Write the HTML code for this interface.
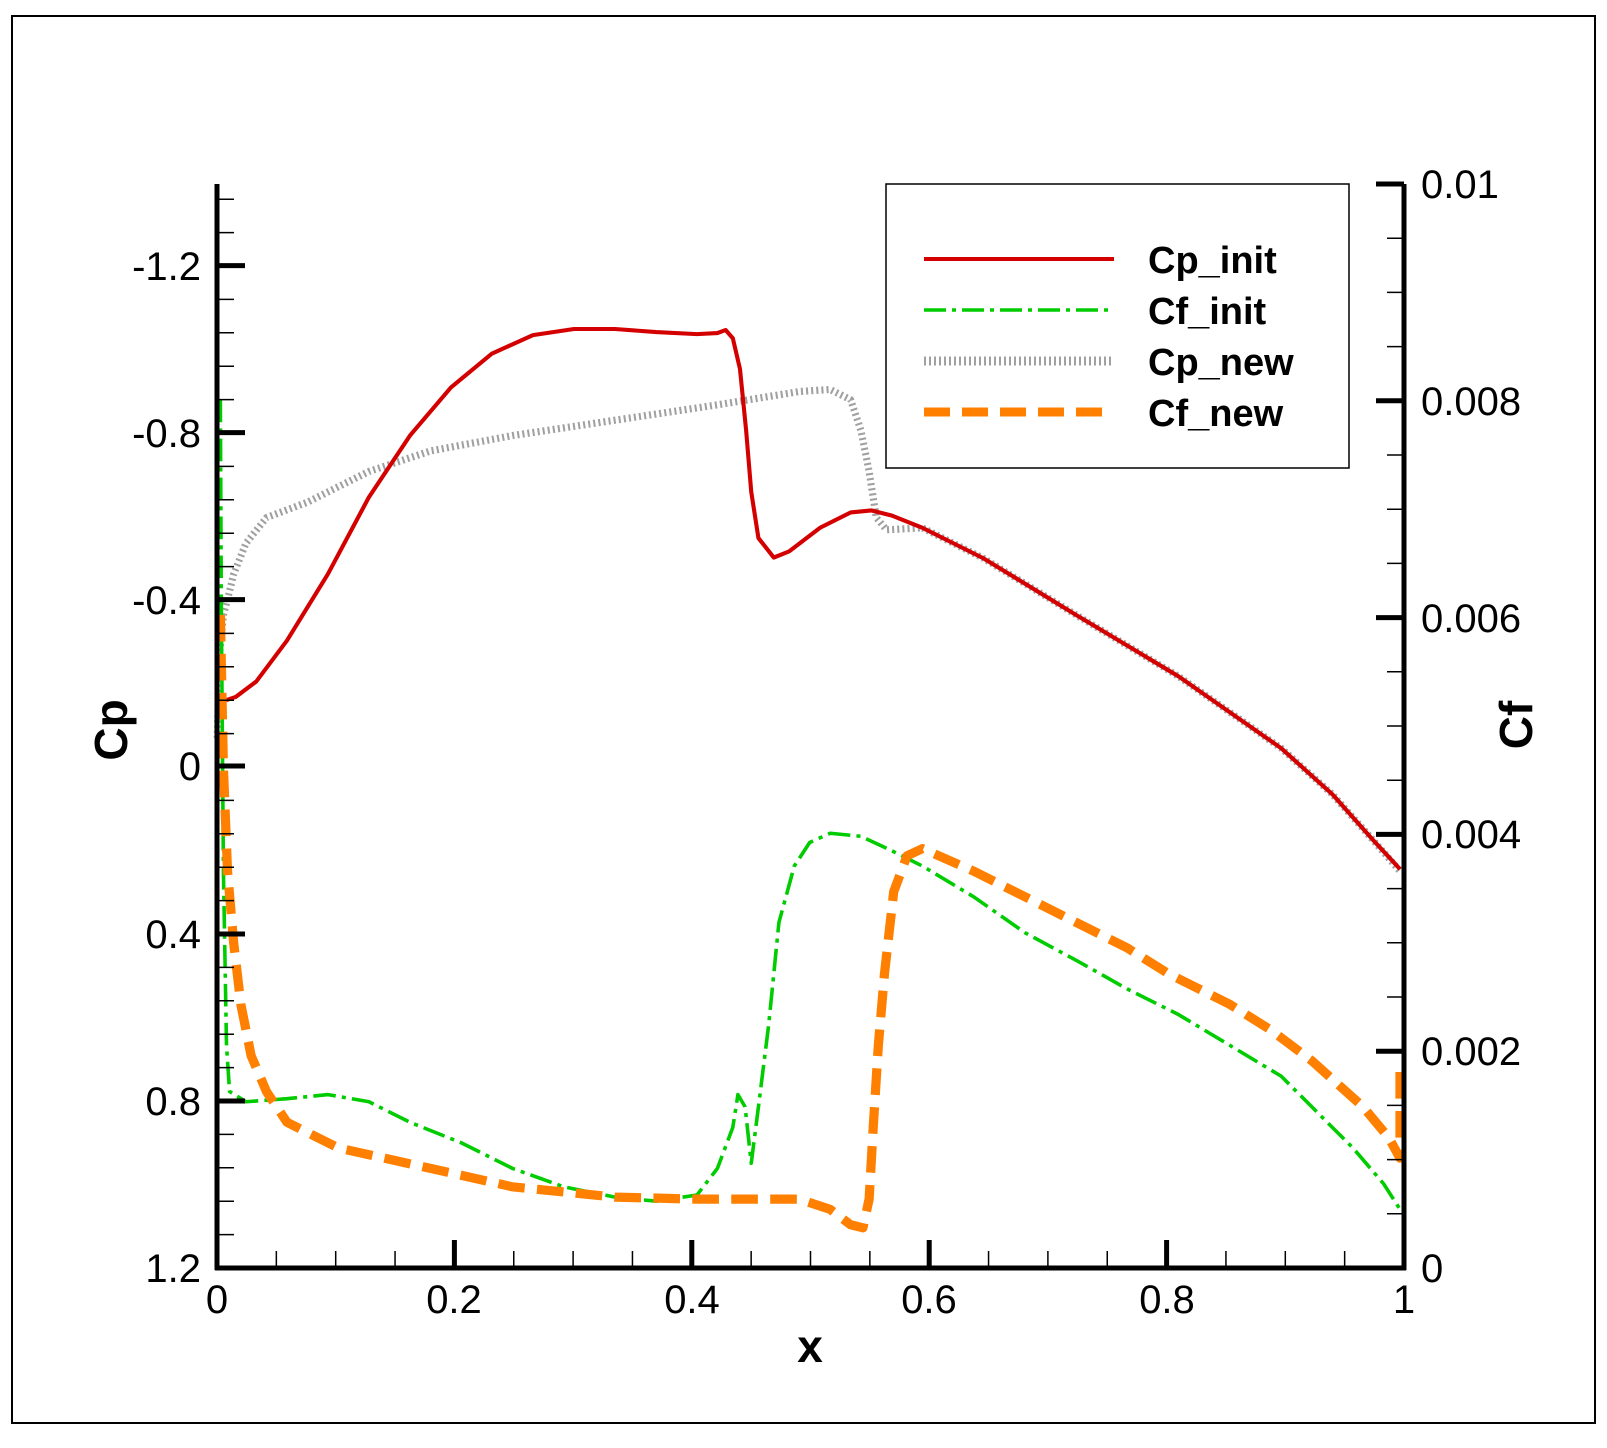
<!DOCTYPE html><html><head><style>body{margin:0;background:#fff}svg{display:block}text{font-family:"Liberation Sans",sans-serif}</style></head><body>
<svg width="1607" height="1448" xmlns="http://www.w3.org/2000/svg">
<rect x="12" y="16" width="1583" height="1407" fill="none" stroke="#000" stroke-width="2"/>
<g transform="scale(1.0249)" fill="none" stroke-linejoin="round">
<polyline stroke="#a0a0a0" stroke-width="7" stroke-dasharray="2 3" points="212,720 214,640 218,600 222,585 228,560 240,530 260,505 300,490 360,460 420,440 500,425 600,410 700,395 780,382 810,380 830,390 840,420 848,460 855,505 865,517 900,515 960,545 1050,600 1150,660 1250,730 1300,775 1340,820 1366,850"/>
<polyline stroke="#d40000" stroke-width="4" points="214,700 218,684 230,680 250,665 280,625 320,560 360,485 400,425 440,378 480,345 520,327 560,321 600,321 640,324 680,326 700,325 708,322 715,330 722,360 728,420 733,480 740,525 755,544 770,538 800,515 830,500 850,498 870,503 900,515 960,545 1050,600 1150,660 1250,730 1300,775 1340,820 1366,848"/>
<polyline stroke="#00cc00" stroke-width="3.5" stroke-dasharray="22 6 4 6" points="215,390 216,600 218,850 221,1020 224,1065 240,1075 280,1072 320,1068 360,1075 400,1095 450,1115 500,1140 550,1158 600,1168 640,1172 680,1166 700,1140 715,1100 720,1068 727,1080 733,1135 740,1080 750,1000 760,900 775,845 790,822 810,813 840,816 870,830 900,845 950,875 1000,910 1050,937 1100,965 1150,990 1200,1020 1250,1050 1280,1080 1320,1120 1350,1155 1366,1180"/>
<polyline stroke="#ff8000" stroke-width="9" stroke-dasharray="26 12" points="215,600 218,750 222,850 228,920 235,980 245,1030 260,1065 280,1095 330,1120 420,1140 500,1158 600,1168 680,1170 780,1170 810,1180 830,1195 842,1198 848,1170 852,1100 857,1020 863,950 872,870 885,835 900,828 950,850 1000,875 1050,900 1100,925 1140,950 1200,980 1240,1005 1280,1035 1330,1080 1355,1110 1366,1130 1366,1045"/>
</g>
<rect x="886" y="184" width="463" height="284" fill="#fff" stroke="#000" stroke-width="1.5"/>
<line x1="924" y1="259" x2="1114" y2="259" stroke="#d40000" stroke-width="4"/>
<line x1="924" y1="310" x2="1114" y2="310" stroke="#00cc00" stroke-width="3.5" stroke-dasharray="22 6 4 6"/>
<line x1="924" y1="361" x2="1114" y2="361" stroke="#a0a0a0" stroke-width="9" stroke-dasharray="2 3"/>
<line x1="924" y1="412" x2="1114" y2="412" stroke="#ff8000" stroke-width="9" stroke-dasharray="26 12"/>
<g font-size="38" font-weight="bold">
<text x="1148" y="273">Cp_init</text><text x="1148" y="324">Cf_init</text><text x="1148" y="375">Cp_new</text><text x="1148" y="426">Cf_new</text>
</g>
<g stroke="#000" fill="none">
<path stroke-width="1.5" d="M217 1234.6h17M217 1201.2h17M217 1167.8h17M217 1134.4h17M217 1067.6h17M217 1034.2h17M217 1000.8h17M217 967.4h17M217 900.6h17M217 867.2h17M217 833.8h17M217 800.4h17M217 733.6h17M217 700.2h17M217 666.8h17M217 633.4h17M217 566.6h17M217 533.2h17M217 499.8h17M217 466.4h17M217 399.6h17M217 366.2h17M217 332.8h17M217 299.4h17M217 232.6h17M217 199.2h17"/>
<path stroke-width="5" d="M217 1101h28M217 934h28M217 766h28M217 599.6h28M217 432.6h28M217 265.6h28"/>
<path stroke-width="1.5" d="M276.35 1268v-17M335.7 1268v-17M395.05 1268v-17M513.75 1268v-17M573.1 1268v-17M632.45 1268v-17M751.15 1268v-17M810.5 1268v-17M869.85 1268v-17M988.55 1268v-17M1047.9 1268v-17M1107.25 1268v-17M1225.95 1268v-17M1285.3 1268v-17M1344.65 1268v-17"/>
<path stroke-width="5" d="M454.4 1268v-28M691.8 1268v-28M929.2 1268v-28M1166.6 1268v-28"/>
<path stroke-width="1.5" d="M1404 1213.8h-17M1404 1159.6h-17M1404 1105.4h-17M1404 997h-17M1404 942.8h-17M1404 888.6h-17M1404 780.2h-17M1404 726h-17M1404 671.8h-17M1404 563.4h-17M1404 509.2h-17M1404 455h-17M1404 346.6h-17M1404 292.4h-17M1404 238.2h-17"/>
<path stroke-width="5" d="M1404 1051.2h-28M1404 834.4h-28M1404 617.6h-28M1404 400.8h-28M1404 184h-28"/>
</g>
<g font-size="40" text-anchor="end">
<text x="201" y="1282">1.2</text><text x="201" y="1115">0.8</text><text x="201" y="948">0.4</text><text x="201" y="780">0</text><text x="201" y="614">-0.4</text><text x="201" y="447">-0.8</text><text x="201" y="280">-1.2</text>
</g>
<g font-size="40" text-anchor="middle">
<text x="217" y="1313">0</text><text x="454" y="1313">0.2</text><text x="692" y="1313">0.4</text><text x="929" y="1313">0.6</text><text x="1167" y="1313">0.8</text><text x="1404" y="1313">1</text>
</g>
<g font-size="40">
<text x="1421" y="1282">0</text><text x="1421" y="1065">0.002</text><text x="1421" y="848">0.004</text><text x="1421" y="632">0.006</text><text x="1421" y="415">0.008</text><text x="1421" y="198">0.01</text>
</g>
<text x="810" y="1362" font-size="46" font-weight="bold" text-anchor="middle">x</text>
<text transform="translate(127,730) rotate(-90)" font-size="46" font-weight="bold" text-anchor="middle">Cp</text>
<text transform="translate(1532,725) rotate(-90)" font-size="46" font-weight="bold" text-anchor="middle">Cf</text>
<line x1="217" y1="184" x2="217" y2="1270" stroke="#000" stroke-width="5"/>
<line x1="1404" y1="184" x2="1404" y2="1270" stroke="#000" stroke-width="5"/>
<line x1="215" y1="1268" x2="1406" y2="1268" stroke="#000" stroke-width="5"/>
</svg></body></html>
